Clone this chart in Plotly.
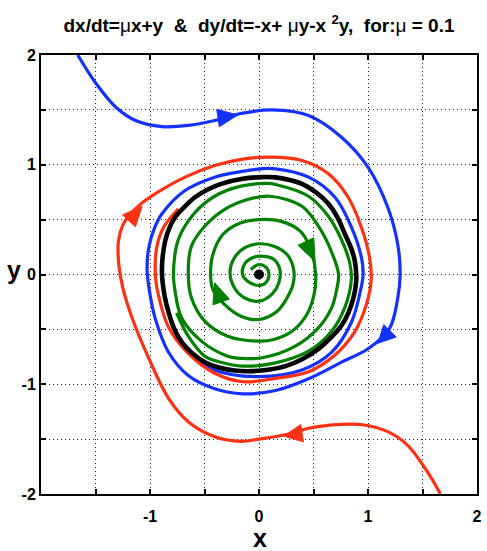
import numpy as np
import plotly.graph_objects as go

# ---------------- data ----------------
tick_vals = [-2, -1.5, -1, -0.5, 0, 0.5, 1, 1.5, 2]
x_tick_text = ['', '', '-1', '', '0', '', '1', '', '2']
y_tick_text = ['-2', '', '-1', '', '0', '', '1', '', '2']

# limit cycle (black)
black_x = [-0.89, -0.885, -0.86, -0.82, -0.77, -0.69, -0.588, -0.47, -0.346, -0.15, 0.02, 0.15,
           0.28, 0.395, 0.52, 0.637, 0.72, 0.787, 0.845, 0.878, 0.893, 0.885, 0.864, 0.82,
           0.757, 0.66, 0.546, 0.40, 0.243, 0.1, -0.05, -0.225, -0.36, -0.497, -0.61, -0.709,
           -0.78, -0.83, -0.865, -0.89]
black_y = [0.0, 0.15, 0.31, 0.43, 0.522, 0.61, 0.704, 0.775, 0.826, 0.872, 0.887, 0.885,
           0.862, 0.826, 0.75, 0.644, 0.52, 0.371, 0.24, 0.128, -0.02, -0.12, -0.221, -0.35,
           -0.465, -0.575, -0.677, -0.77, -0.835, -0.865, -0.88, -0.875, -0.85, -0.799, -0.72, -0.617,
           -0.49, -0.343, -0.2, 0.0]

# green spiral from the origin
green_x = [-0.075, 0.0, 0.07, 0.092, 0.061, 0.0, -0.105, -0.151, -0.135, -0.06, 0.015, 0.137,
           0.191, 0.182, 0.122, 0.0, -0.135, -0.226, -0.266, -0.226, -0.121, 0.0, 0.137, 0.258,
           0.318, 0.312, 0.258, 0.167, 0.0, -0.166, -0.317, -0.423, -0.444, -0.423, -0.332, -0.166,
           0.0, 0.197, 0.378, 0.469, 0.52, 0.505, 0.439, 0.303, 0.137, 0.0, -0.287, -0.498,
           -0.62, -0.649, -0.62, -0.498, -0.317, -0.105, 0.1, 0.394, 0.545, 0.66, 0.73, 0.71,
           0.666, 0.545, 0.333, 0.031, -0.15, -0.287, -0.529, -0.71, -0.77, -0.785, -0.74, -0.589,
           -0.407, -0.166, 0.076, 0.152, 0.454, 0.636, 0.756, 0.832, 0.847, 0.786, 0.666, 0.454,
           0.152, -0.15, -0.35, -0.498, -0.649, -0.756]
green_y = [0.046, 0.091, 0.061, 0.0, -0.076, -0.1, -0.061, 0.0, 0.091, 0.152, 0.167, 0.137,
           0.046, -0.076, -0.176, -0.243, -0.212, -0.121, 0.015, 0.152, 0.249, 0.28, 0.258, 0.182,
           0.046, -0.091, -0.212, -0.334, -0.41, -0.38, -0.273, -0.137, 0.0, 0.182, 0.364, 0.471,
           0.50, 0.486, 0.395, 0.243, 0.0, -0.182, -0.364, -0.517, -0.592, -0.607, -0.562, -0.425,
           -0.212, 0.0, 0.258, 0.44, 0.592, 0.683, 0.713, 0.622, 0.44, 0.22, 0.0, -0.15,
           -0.304, -0.486, -0.653, -0.759, -0.765, -0.744, -0.607, -0.395, -0.152, 0.0, 0.319, 0.562,
           0.713, 0.805, 0.83, 0.82, 0.713, 0.531, 0.319, 0.107, -0.046, -0.304, -0.517, -0.699,
           -0.805, -0.835, -0.80, -0.744, -0.562, -0.349]

# blue trajectory from the upper left
blue_x = [-1.663, -1.495, -1.313, -1.132, -0.89, -0.649, -0.406, -0.15, 0.122, 0.455, 0.757, 1.0,
          1.181, 1.272, 1.295, 1.272, 1.196, 1.0, 0.757, 0.455, 0.152, -0.15, -0.406, -0.649,
          -0.83, -0.951, -1.005, -1.027, -1.01, -0.96, -0.89, -0.678, -0.406, -0.15, 0.02, 0.152,
          0.455, 0.697, 0.848, 0.939, 0.955, 0.93, 0.848, 0.667, 0.394, 0.0, -0.406, -0.649, -0.80]
blue_y = [2.0, 1.74, 1.524, 1.403, 1.348, 1.358, 1.403, 1.47, 1.50, 1.449, 1.251, 0.978,
          0.613, 0.28, 0.0, -0.221, -0.495, -0.677, -0.799, -0.95, -1.057, -1.087, -1.041, -0.92,
          -0.708, -0.404, -0.15, 0.05, 0.25, 0.42, 0.553, 0.765, 0.887, 0.94, 0.963, 0.963,
          0.887, 0.704, 0.431, 0.158, 0.0, -0.15, -0.435, -0.708, -0.87, -0.93, -0.87, -0.69, -0.45]

# red trajectory from the lower right
red_x = [1.664, 1.544, 1.362, 1.181, 0.969, 0.757, 0.455, 0.304, 0.0, -0.165, -0.406, -0.649,
         -0.83, -1.011, -1.163, -1.25, -1.285, -1.29, -1.25, -1.19, -1.10, -0.95, -0.678, -0.406,
         -0.134, 0.1, 0.395, 0.637, 0.818, 0.939, 1.014, 1.029, 0.984, 0.878, 0.697, 0.455,
         0.152, -0.15, -0.406, -0.649, -0.83, -0.92, -0.951, -0.936, -0.875, -0.739]
red_y = [-2.0, -1.797, -1.554, -1.432, -1.371, -1.365, -1.401, -1.447, -1.50, -1.52, -1.478, -1.341,
         -1.128, -0.764, -0.399, -0.12, 0.08, 0.3, 0.45, 0.54, 0.63, 0.736, 0.887, 0.993,
         1.054, 1.069, 1.039, 0.918, 0.704, 0.431, 0.158, -0.05, -0.277, -0.522, -0.733, -0.886,
         -0.946, -0.977, -0.90, -0.718, -0.48, -0.2, 0.0, 0.258, 0.431, 0.599]

# arrow heads: base centre and tip, per curve
arrow_base_x = [-0.376, 1.202, 0.395, -1.193, 0.43, -0.347]
arrow_base_y = [1.426, -0.513, -1.446, 0.489, 0.30, -0.25]
arrow_tip_x = [-0.195, 1.09, 0.228, -1.072, 0.515, -0.407]
arrow_tip_y = [1.453, -0.627, -1.473, 0.622, 0.12, -0.076]
arrow_color = ['blue', 'blue', 'red', 'red', 'green', 'green']

colors = {'blue': '#1432ff', 'red': '#ff3214', 'green': '#008000', 'black': '#000000'}

# equilibrium point
eq_x = [0.0]
eq_y = [0.0]

# ---------------- figure ----------------
FONT = "Liberation Sans Narrow, Arial Narrow, Liberation Sans, Arial, sans-serif"
fig = go.Figure()

def add_curve(xs, ys, color, width):
    fig.add_trace(go.Scatter(x=xs, y=ys, mode='lines',
                             line=dict(color=color, width=width, shape='spline', smoothing=1.0),
                             hoverinfo='skip', showlegend=False))

add_curve(green_x, green_y, colors['green'], 3.2)
add_curve(blue_x, blue_y, colors['blue'], 3.2)
add_curve(red_x, red_y, colors['red'], 3.2)
add_curve(black_x, black_y, colors['black'], 4.6)

half_w = 0.08
for bx, by, tx, ty, c in zip(arrow_base_x, arrow_base_y, arrow_tip_x, arrow_tip_y, arrow_color):
    d = np.array([tx - bx, ty - by])
    d = d / np.linalg.norm(d)
    n = np.array([-d[1], d[0]])
    b = np.array([bx, by])
    p1 = b + half_w * n
    p2 = b - half_w * n
    fig.add_trace(go.Scatter(x=[tx, p1[0], p2[0], tx], y=[ty, p1[1], p2[1], ty],
                             mode='lines', fill='toself', fillcolor=colors[c],
                             line=dict(color=colors[c], width=1),
                             hoverinfo='skip', showlegend=False))

fig.add_trace(go.Scatter(x=eq_x, y=eq_y, mode='markers',
                         marker=dict(color='black', size=10),
                         hoverinfo='skip', showlegend=False))

axis_common = dict(range=[-2, 2], tickvals=tick_vals, showline=True, linecolor='black',
                   linewidth=2, mirror='allticks', ticks='inside', ticklen=5, tickwidth=1.5,
                   tickcolor='black', showgrid=True, gridcolor='#222222', griddash='1px,3px',
                   gridwidth=1, zeroline=False, fixedrange=True,
                   tickfont=dict(family=FONT, size=16, color='black', weight='bold'))

fig.update_layout(
    width=487, height=551,
    margin=dict(l=41, r=5, t=55, b=57),
    paper_bgcolor='white', plot_bgcolor='white',
    xaxis=dict(ticktext=x_tick_text, ticklabelstandoff=7, **axis_common),
    yaxis=dict(ticktext=y_tick_text, **axis_common),
    title=dict(text='dx/dt=<span style="font-weight:normal">μ</span>x+y  &  dy/dt=-x+ '
                    '<span style="font-weight:normal">μ</span>y-x <sup>2</sup>y,  for:'
                    '<span style="font-weight:normal">μ</span> = 0.1',
               x=0.5, xref='paper', xanchor='center',
               y=1 - 25 / 551, yref='container', yanchor='middle',
               font=dict(family=FONT, size=19, color='black', weight='bold')),
    annotations=[
        dict(text='x', xref='paper', yref='paper', x=0.503, y=-0.10, showarrow=False,
             xanchor='center', yanchor='middle',
             font=dict(family=FONT, size=25, color='black', weight='bold')),
        dict(text='y', xref='paper', yref='paper', x=-0.062, y=0.51, showarrow=False,
             xanchor='center', yanchor='middle',
             font=dict(family=FONT, size=25, color='black', weight='bold')),
    ],
)

fig.write_html("out.html")
